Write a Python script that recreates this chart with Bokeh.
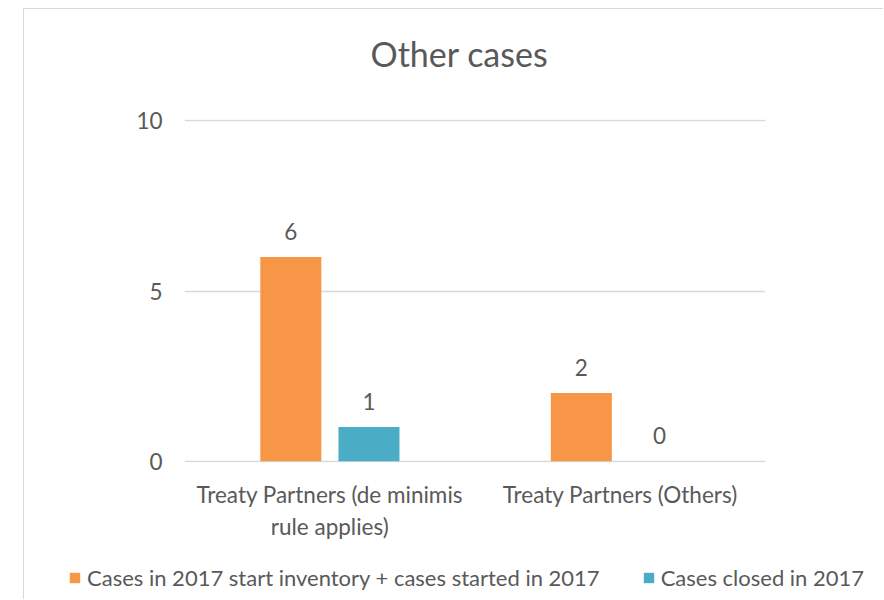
from bokeh.plotting import figure
from bokeh.layouts import column
from bokeh.models import (ColumnDataSource, Legend, LegendItem, LabelSet, FixedTicker,
                          FactorRange, Range1d, CategoricalAxis)
from bokeh.transform import dodge
from bokeh.core.properties import value
from bokeh.embed import file_html
from bokeh.resources import INLINE

# ---- data ----
categories = ["Treaty Partners (de minimis rule applies)", "Treaty Partners (Others)"]
tick_line1 = ["Treaty Partners (de minimis", "Treaty Partners (Others)"]
tick_line2 = ["rule applies)", " "]
series_names = ["Cases in 2017 start inventory + cases started in 2017", "Cases closed in 2017"]
started = [6, 2]
closed = [1, 0]
y_ticks = [0, 5, 10]
title_text = "Other cases"

FONT = "Lato"
GRAY = "#595959"
ORANGE = "#F79646"
TEAL = "#4BACC6"
BORDER = "1px solid #D9D9D9"
FS = "22.5px"

src = ColumnDataSource(dict(
    cat=categories,
    started=started,
    closed=closed,
    started_txt=[str(v) for v in started],
    closed_txt=[str(v) for v in closed],
))

# ---- title strip ----
hdr = figure(
    width=860, height=90, title=title_text,
    x_range=Range1d(0, 1), y_range=Range1d(0, 1),
    output_backend="svg", toolbar_location=None,
    x_axis_location=None, y_axis_location=None, min_border=0,
    margin=(8, 0, 0, 23), frame_align=False,
    styles={"border-top": BORDER, "border-left": BORDER},
)
hdr.outline_line_color = None
hdr.grid.grid_line_color = None
hdr.title.align = "left"
hdr.title.offset = 346
hdr.title.standoff = 42
hdr.title.text_font = FONT
hdr.title.text_font_size = "34px"
hdr.title.text_font_style = "normal"
hdr.title.text_color = GRAY

# ---- main chart ----
p = figure(
    x_range=FactorRange(*categories, range_padding=0),
    y_range=Range1d(-0.04, 10.04),
    width=860, height=446, title=None,
    output_backend="svg", toolbar_location=None,
    x_axis_location=None,
    min_border_left=160, min_border_right=119,
    min_border_top=21, min_border_bottom=82,
    margin=(0, 0, 0, 23), frame_align=False,
    styles={"border-left": BORDER},
)
p.outline_line_color = None
p.extra_x_ranges = {
    "l1": FactorRange(*tick_line1, range_padding=0),
    "l2": FactorRange(*tick_line2, range_padding=0),
}

r1 = p.vbar(x=dodge("cat", -0.134, range=p.x_range), top="started", width=0.21,
            source=src, fill_color=ORANGE, line_color=None)
r2 = p.vbar(x=dodge("cat", 0.135, range=p.x_range), top="closed", width=0.21,
            source=src, fill_color=TEAL, line_color=None)

for xoff, fld in [(-0.134, "started"), (0.135, "closed")]:
    ls = LabelSet(x=dodge("cat", xoff, range=p.x_range), y=fld, text=fld + "_txt",
                  source=src, y_offset=17, text_align="center", text_baseline="bottom",
                  text_font=value(FONT), text_font_size=value(FS), text_color=GRAY)
    p.add_layout(ls)

p.yaxis.ticker = FixedTicker(ticks=y_ticks)
p.yaxis.axis_line_color = None
p.yaxis.major_tick_line_color = None
p.yaxis.major_tick_out = 0
p.yaxis.major_tick_in = 0
p.yaxis.minor_tick_line_color = None
p.yaxis.major_label_text_font = FONT
p.yaxis.major_label_text_font_size = FS
p.yaxis.major_label_text_color = GRAY
p.yaxis.major_label_standoff = 22

def make_x_axis(rng_name, standoff):
    ax = CategoricalAxis(x_range_name=rng_name)
    ax.axis_line_color = None
    ax.major_tick_line_color = None
    ax.major_tick_out = 0
    ax.major_tick_in = 0
    ax.major_label_text_font = FONT
    ax.major_label_text_font_size = FS
    ax.major_label_text_color = GRAY
    ax.major_label_standoff = standoff
    p.add_layout(ax, "below")

make_x_axis("l1", 18)
make_x_axis("l2", 2)

p.xgrid.grid_line_color = None
p.ygrid.ticker = FixedTicker(ticks=y_ticks)
p.ygrid.grid_line_color = "#D9D9D9"
p.ygrid.grid_line_width = 1.3

# ---- legend strip ----
lf = figure(
    width=860, height=55, title=None,
    x_range=Range1d(0, 1), y_range=Range1d(0, 1),
    output_backend="svg", toolbar_location=None,
    x_axis_location=None, y_axis_location=None, min_border=0,
    margin=(0, 0, 0, 23), frame_align=False,
    styles={"border-left": BORDER},
)
lf.outline_line_color = None
lf.grid.grid_line_color = None
# legend swatches: same data, zero width so nothing shows in the strip itself
lr1 = lf.vbar(x="started", top="started", width=0, source=src,
              fill_color=ORANGE, line_color=None)
lr2 = lf.vbar(x="closed", top="closed", width=0, source=src,
              fill_color=TEAL, line_color=None)

legend = Legend(
    items=[LegendItem(label=series_names[0], renderers=[lr1], index=0),
           LegendItem(label=series_names[1], renderers=[lr2], index=0)],
    orientation="horizontal", location=(44, 8),
    border_line_color=None, background_fill_alpha=0,
    label_text_font=FONT, label_text_font_size="22px", label_text_color=GRAY,
    glyph_width=13, glyph_height=13, spacing=42, label_standoff=6,
    padding=0, margin=0,
)
lf.add_layout(legend, "center")

layout = column(hdr, p, lf, spacing=0)
open("out.html", "w").write(file_html(layout, INLINE))
